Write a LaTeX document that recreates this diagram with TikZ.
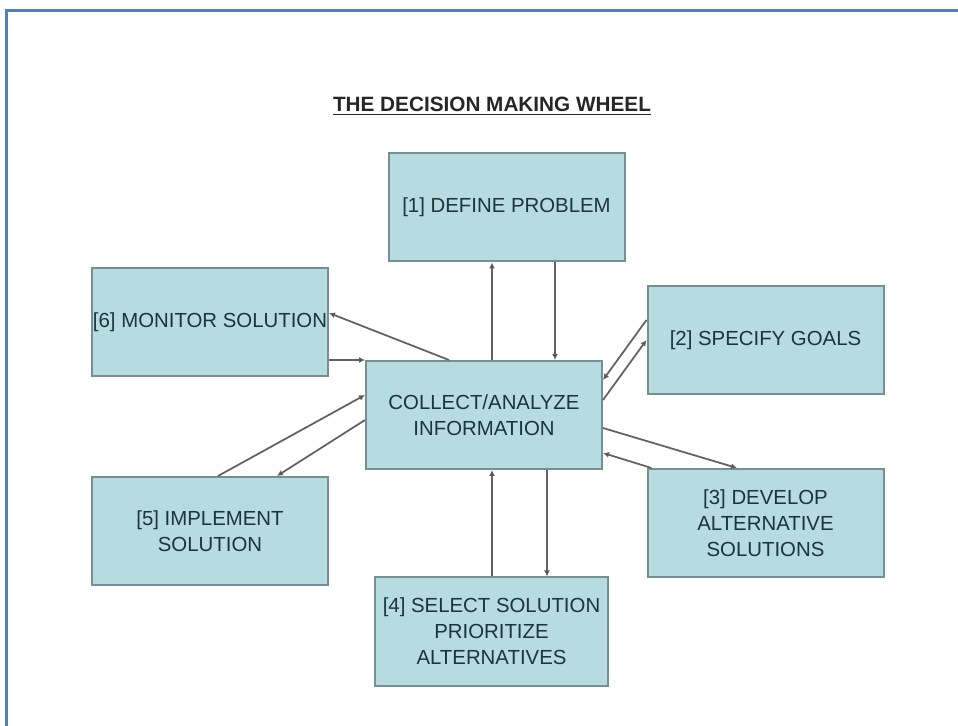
\documentclass[tikz,border=0pt]{standalone}
\usepackage{fontspec}
\setmainfont{Liberation Sans}
\usetikzlibrary{arrows.meta}

\definecolor{stagefill}{HTML}{B7DCE0}
\definecolor{stageline}{HTML}{748F95}
\definecolor{stagetext}{HTML}{1C343B}
\definecolor{frameblue}{HTML}{4F81BD}

\begin{document}
\begin{tikzpicture}[x=0.2mm, y=-0.2mm,
    stage/.style={draw=stageline, line width=0.4mm, fill=stagefill, text=stagetext,
        minimum width=47.2mm, minimum height=21.6mm, inner sep=0pt, align=center,
        font=\fontsize{11.6}{14.8}\selectfont},
    link/.style={draw=black!62, line width=0.35mm, -{Latex[length=1.2mm, width=1.2mm, fill=black!85]}}]

    \useasboundingbox (0,0) rectangle (958,726);
    \draw[frameblue, line width=0.6mm] (6,726) -- (6,11) -- (958,11);

    \node[anchor=base, text=black!85, font=\fontsize{11.8}{14}\selectfont\bfseries] (title) at (492,112)
        {\underline{THE DECISION MAKING WHEEL}};

    \node[stage] (define) at (506.5,207.5) {[1] DEFINE PROBLEM};
    \node[stage] (goals) at (765.5,340) {[2] SPECIFY GOALS};
    \node[stage] (develop) at (765.5,523) {[3] DEVELOP\\ALTERNATIVE\\SOLUTIONS};
    \node[stage, minimum width=46.6mm] (select) at (491.5,631.5) {[4] SELECT SOLUTION\\PRIORITIZE\\ALTERNATIVES};
    \node[stage] (implement) at (210,531) {[5] IMPLEMENT\\SOLUTION};
    \node[stage] (monitor) at (210,322.5) {[6] MONITOR SOLUTION};
    \node[stage] (collect) at (484,415) {COLLECT/ANALYZE\\INFORMATION};

    % centre <-> define
    \draw[link] ([xshift=1.6mm]collect.north) -- ([xshift=1.6mm]collect.north |- define.south);
    \draw[link] ([xshift=9.7mm]define.south) -- ([xshift=9.7mm]define.south |- collect.north);

    % centre <-> goals
    \draw[link] ([yshift=4mm]goals.west) -- ([yshift=7mm]collect.east);
    \draw[link] ([yshift=3mm]collect.east) -- (goals.west);

    % centre <-> develop
    \draw[link] ([yshift=-2.6mm]collect.east) -- ([xshift=-5.7mm]develop.north);
    \draw[link] ([xshift=1mm]develop.north west) -- ([yshift=-7.6mm]collect.east);

    % centre <-> select
    \draw[link] ([xshift=12.6mm]collect.south) -- ([xshift=12.6mm]collect.south |- select.north);
    \draw[link] ([xshift=0.1mm]select.north) -- ([xshift=0.1mm]select.north |- collect.south);

    % centre <-> implement
    \draw[link] ([xshift=1.6mm]implement.north) -- ([yshift=4mm]collect.west);
    \draw[link] ([yshift=-1mm]collect.west) -- ([xshift=13.4mm]implement.north);

    % centre <-> monitor
    \draw[link] ([xshift=16.8mm]collect.north west) -- ([yshift=1.9mm]monitor.east);
    \draw[link] (monitor.east |- collect.north west) -- (collect.north west);

\end{tikzpicture}
\end{document}
